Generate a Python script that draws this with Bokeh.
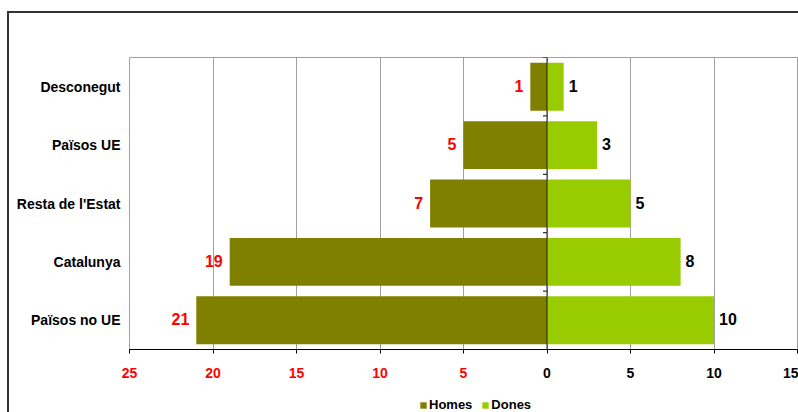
from bokeh.plotting import figure
from bokeh.layouts import column
from bokeh.models import (ColumnDataSource, FactorRange, Range1d, FixedTicker,
                          CustomJSTickFormatter, LabelSet, Span, Legend, LegendItem,
                          LinearAxis)
from bokeh.core.properties import value
from bokeh.embed import file_html
from bokeh.resources import INLINE

# ---- data ----
categories = ["Països no UE", "Catalunya", "Resta de l'Estat", "Països UE", "Desconegut"]
homes = [21, 19, 7, 5, 1]
dones = [10, 8, 5, 3, 1]
tick_values = [-25, -20, -15, -10, -5, 0, 5, 10, 15]
series_names = ["Homes", "Dones"]

HOMES_COLOR = "#808000"
DONES_COLOR = "#99CC00"
FONT = "Liberation Sans"
BOX = "#333333"

src = ColumnDataSource(dict(
    cat=categories,
    homes_neg=[-v for v in homes],
    homes_lbl=[str(v) for v in homes],
    dones=dones,
    dones_lbl=[str(v) for v in dones],
))

p = figure(width=798, height=398,
           y_range=FactorRange(factors=categories),
           x_range=Range1d(tick_values[0], tick_values[-1]),
           output_backend="svg", toolbar_location=None,
           min_border_left=129, min_border_right=1,
           min_border_top=57, min_border_bottom=49)
# outer chart box (top and left edges) painted behind the transparent canvas border
p.styles = {
    "background-color": "white",
    "background-image": f"linear-gradient({BOX}, {BOX}), linear-gradient({BOX}, {BOX})",
    "background-size": "2px 387px, 791px 2px",
    "background-position": "7px 11px, 7px 11px",
    "background-repeat": "no-repeat",
}
p.background_fill_color = "white"
p.border_fill_alpha = 0
p.outline_line_color = "#a0a0a0"

p.hbar(y="cat", left="homes_neg", right=0, height=0.82, fill_color=HOMES_COLOR,
       line_color=None, source=src)
p.hbar(y="cat", left=0, right="dones", height=0.82, fill_color=DONES_COLOR,
       line_color=None, source=src)

# center line and boundary ticks
p.add_layout(Span(location=0, dimension="height", line_color="#202020", line_width=1))
bounds = list(range(len(categories) + 1))
p.segment(x0=[0] * len(bounds), x1=[-0.24] * len(bounds), y0=bounds, y1=bounds,
          line_color="black", line_width=1)

# value labels
p.add_layout(LabelSet(x="homes_neg", y="cat", text="homes_lbl", source=src,
                      x_offset=-7, y_offset=1, text_align="right", text_baseline="middle",
                      text_color="#FF0000", text_font=value(FONT), text_font_style="bold",
                      text_font_size="16px"))
p.add_layout(LabelSet(x="dones", y="cat", text="dones_lbl", source=src,
                      x_offset=5, y_offset=1, text_align="left", text_baseline="middle",
                      text_color="black", text_font=value(FONT), text_font_style="bold",
                      text_font_size="16px"))

# x axis: black labels for 0 and positives
ticker = FixedTicker(ticks=tick_values)
xa = p.xaxis[0]
xa.ticker = ticker
xa.formatter = CustomJSTickFormatter(code="return tick < 0 ? '' : String(Math.abs(tick));")
xa.axis_line_color = "black"
xa.major_tick_line_color = "black"
xa.major_tick_out = 4
xa.major_tick_in = 0
xa.minor_tick_line_color = None
xa.minor_tick_out = 0
xa.major_label_text_font = FONT
xa.major_label_text_font_style = "bold"
xa.major_label_text_font_size = "14px"
xa.major_label_text_color = "black"
xa.major_label_standoff = 14

# second axis stacked below, pulled up onto the same row: red labels for Homes side
xb = LinearAxis(ticker=ticker,
                formatter=CustomJSTickFormatter(code="return tick < 0 ? String(Math.abs(tick)) : '';"))
xb.axis_line_color = None
xb.major_tick_line_color = None
xb.major_tick_out = 4
xb.major_tick_in = 0
xb.minor_tick_line_color = None
xb.minor_tick_out = 0
xb.major_label_text_font = FONT
xb.major_label_text_font_style = "bold"
xb.major_label_text_font_size = "14px"
xb.major_label_text_color = "#FF0000"
xb.major_label_standoff = -17
xb.axis_label = " "
xb.axis_label_standoff = 0
xb.axis_label_text_font_size = "12px"
p.add_layout(xb, "below")

p.xgrid.ticker = ticker
p.xgrid.grid_line_color = "#a0a0a0"
p.ygrid.grid_line_color = None

# y axis
p.yaxis.axis_line_color = None
p.yaxis.major_tick_line_color = None
p.yaxis.major_tick_out = 0
p.yaxis.major_tick_in = 0
p.yaxis.minor_tick_line_color = None
p.yaxis.major_label_text_font = FONT
p.yaxis.major_label_text_font_style = "bold"
p.yaxis.major_label_text_font_size = "14px"
p.yaxis.major_label_text_color = "black"
p.yaxis.major_label_standoff = 9

# ---- legend strip below the chart ----
pl = figure(width=798, height=14, x_range=Range1d(0, 1), y_range=Range1d(0, 1),
            x_axis_type=None, y_axis_type=None,
            output_backend="svg", toolbar_location=None,
            min_border=0, min_border_left=0, min_border_right=0,
            min_border_top=0, min_border_bottom=0)
pl.styles = {
    "background-color": "white",
    "background-image": f"linear-gradient({BOX}, {BOX})",
    "background-size": "2px 14px",
    "background-position": "7px 0px",
    "background-repeat": "no-repeat",
}
pl.background_fill_alpha = 0
pl.border_fill_alpha = 0
pl.outline_line_color = None
pl.xgrid.visible = False
pl.ygrid.visible = False
# zero-width swatch renderers (only used to give the legend its colour squares)
lh = pl.hbar(y=[0.5], left=[0], right=[0], height=0.5, fill_color=HOMES_COLOR, line_color=None)
ld = pl.hbar(y=[0.5], left=[0], right=[0], height=0.5, fill_color=DONES_COLOR, line_color=None)
legend = Legend(items=[LegendItem(label=series_names[0], renderers=[lh]),
                       LegendItem(label=series_names[1], renderers=[ld])],
                orientation="horizontal", location=(290, 0),
                glyph_width=8, glyph_height=8, label_height=10, label_standoff=2,
                spacing=9, padding=0, margin=0, border_line_color=None,
                background_fill_alpha=0,
                label_text_font=FONT, label_text_font_style="bold",
                label_text_font_size="13px", label_text_color="black")
pl.add_layout(legend)

layout = column(p, pl, spacing=0)
open("out.html", "w").write(file_html(layout, INLINE))
